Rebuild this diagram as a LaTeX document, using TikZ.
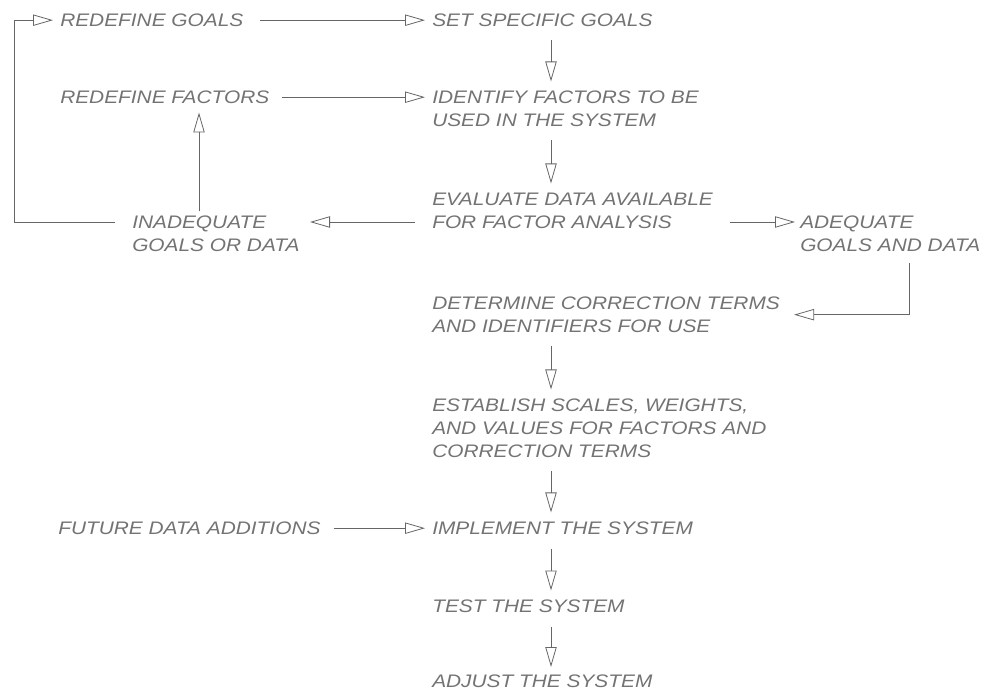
\documentclass[tikz,border=0pt]{standalone}
\usepackage{fontspec}
\setsansfont{Liberation Sans}[FakeStretch=1.15]
\usepackage{pdfrender}
\usetikzlibrary{arrows.meta,calc}
\newcommand\hollow[1]{\textpdfrender{TextRenderingMode=1,LineWidth=0.3}{#1}}
\tikzset{
  lbl/.style={anchor=north west, inner sep=0pt, align=left, text=black!55,
    font=\fontsize{13.6}{17.25}\selectfont\sffamily\itshape},
  arr/.style={draw=black!60, line width=0.6pt,
    -{Triangle[open,length=15pt,width=8.5pt,line width=0.6pt]}},
  ln/.style={draw=black!60, line width=0.6pt}
}
\begin{document}
\begin{tikzpicture}[x=0.75pt,y=-0.75pt]
\useasboundingbox (0,0) rectangle (1000,691);
% nodes
\node[lbl] (rg)   at (60,13.5)   {\hollow{REDEFINE GOALS}};
\node[lbl] (ssg)  at (432,13.5)  {\hollow{SET SPECIFIC GOALS}};
\node[lbl] (rf)   at (60,90.5)   {\hollow{REDEFINE FACTORS}};
\node[lbl] (idf)  at (432,90.5)  {\hollow{IDENTIFY FACTORS TO BE}\\\hollow{USED IN THE SYSTEM}};
\node[lbl] (ev)   at (432,192.5) {\hollow{EVALUATE DATA AVAILABLE}\\\hollow{FOR FACTOR ANALYSIS}};
\node[lbl] (inad) at (132,215.5) {\hollow{INADEQUATE}\\\hollow{GOALS OR DATA}};
\node[lbl] (adeq) at (800,215.5) {\hollow{ADEQUATE}\\\hollow{GOALS AND DATA}};
\node[lbl] (det)  at (432,296.5) {\hollow{DETERMINE CORRECTION TERMS}\\\hollow{AND IDENTIFIERS FOR USE}};
\node[lbl] (est)  at (432,398.5) {\hollow{ESTABLISH SCALES, WEIGHTS,}\\\hollow{AND VALUES FOR FACTORS AND}\\\hollow{CORRECTION TERMS}};
\node[lbl] (fut)  at (58,521.5)  {\hollow{FUTURE DATA ADDITIONS}};
\node[lbl] (imp)  at (432,521.5) {\hollow{IMPLEMENT THE SYSTEM}};
\node[lbl] (tst)  at (432,599.5) {\hollow{TEST THE SYSTEM}};
\node[lbl] (adj)  at (432,675)   {\hollow{ADJUST THE SYSTEM}};
% vertical main flow
\draw[arr] ($(ssg.north west)+(119,27)$) -- ($(idf.north west)+(119,-9)$);
\draw[arr] ($(idf.north west)+(119,50)$) -- ($(ev.north west)+(119,-9)$);
\draw[arr] ($(det.north west)+(119,50)$) -- ($(est.north west)+(119,-9)$);
\draw[arr] ($(est.north west)+(119,73)$) -- ($(imp.north west)+(119,-9)$);
\draw[arr] ($(imp.north west)+(119,27)$) -- ($(tst.north west)+(119,-9)$);
\draw[arr] ($(tst.north west)+(119,27)$) -- ($(adj.north west)+(119,-8)$);
% horizontal arrows
\draw[arr] ($(rg.east)+(16,0)$) -- ($(ssg.west)+(-7,0)$);
\draw[arr] ($(rf.east)+(13,0)$) -- ($(idf.west |- rf.east)+(-7,0)$);
\draw[arr] ($(ev.north west)+(-17,29.5)$) -- ($(inad.north west)+(178,6.5)$);
\draw[arr] ($(ev.north west)+(298,29.5)$) -- ($(adeq.north west)+(-5,6.5)$);
\draw[arr] ($(fut.east)+(13,0)$) -- ($(imp.west)+(-7,0)$);
% feedback
\draw[arr] ($(inad.north west)+(67,-4)$) -- ($(rf.north west)+(139,22)$);
\draw[arr] ($(inad.north west)+(-17,6.5)$) -| ($(rg.west)+(-46,0)$) -- ($(rg.west)+(-7,0)$);
\draw[arr] ($(adeq.north west)+(109,48)$) |- ($(det.east)+(14,0)$);
\end{tikzpicture}
\end{document}
